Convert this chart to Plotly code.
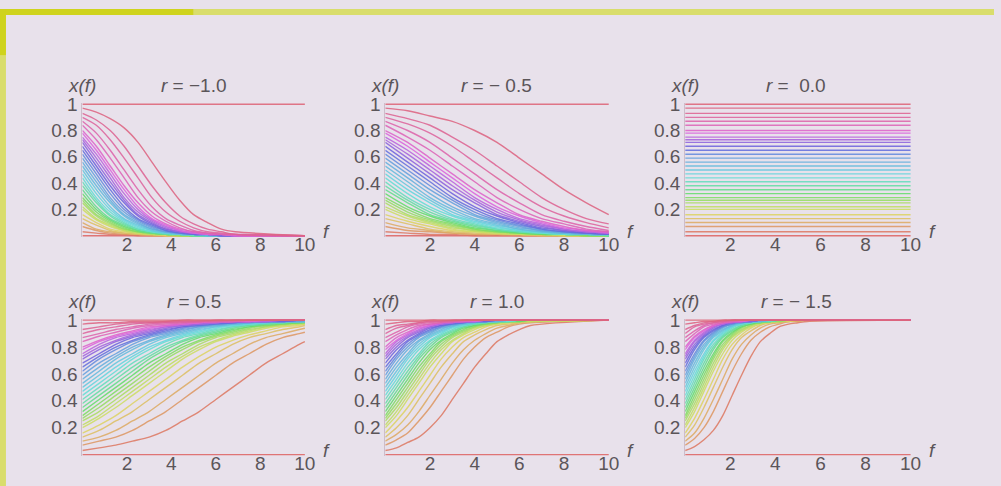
import plotly.graph_objects as go

# ---------------- data ----------------
# starting values x(0) of the family of curves (same set in every panel)
X0 = [0, .03, .07, .10, .13, .16, .20, .22, .25, .27, .29, .32, .35, .38, .41, .44, .47,
      .50, .53, .56, .59, .62, .65, .68, .71, .73, .75, .78, .80, .84, .87, .90, .93, .97, 1]

# panel r = -1.0
F_M10 = [0, 0.625, 1.25, 1.875, 2.5, 3.125, 3.75, 4.375, 5, 5.625, 6.25, 6.875, 10]
Y_M10 = [
    [0, 0, 0, 0, 0, 0, 0, 0, 0, 0, 0, 0, 0],
    [.03, .02, .01, .01, 0, 0, 0, 0, 0, 0, 0, 0, 0],
    [.07, .04, .02, .01, .01, 0, 0, 0, 0, 0, 0, 0, 0],
    [.10, .05, .03, .02, .01, 0, 0, 0, 0, 0, 0, 0, 0],
    [.13, .08, .04, .02, .01, .01, 0, 0, 0, 0, 0, 0, 0],
    [.16, .10, .05, .03, .02, .01, 0, 0, 0, 0, 0, 0, 0],
    [.20, .12, .07, .04, .02, .01, .01, 0, 0, 0, 0, 0, 0],
    [.22, .13, .08, .04, .02, .01, .01, 0, 0, 0, 0, 0, 0],
    [.25, .15, .09, .05, .03, .01, .01, 0, 0, 0, 0, 0, 0],
    [.27, .16, .10, .05, .03, .02, .01, 0, 0, 0, 0, 0, 0],
    [.29, .18, .11, .06, .03, .02, .01, .01, 0, 0, 0, 0, 0],
    [.32, .20, .12, .07, .04, .02, .01, .01, 0, 0, 0, 0, 0],
    [.35, .22, .13, .08, .04, .02, .01, .01, 0, 0, 0, 0, 0],
    [.38, .25, .15, .09, .05, .03, .01, .01, 0, 0, 0, 0, 0],
    [.41, .27, .16, .10, .05, .03, .02, .01, 0, 0, 0, 0, 0],
    [.44, .29, .18, .11, .06, .03, .02, .01, .01, 0, 0, 0, 0],
    [.47, .32, .20, .12, .07, .04, .02, .01, .01, 0, 0, 0, 0],
    [.50, .35, .22, .13, .08, .04, .02, .01, .01, 0, 0, 0, 0],
    [.53, .38, .25, .15, .09, .05, .03, .01, .01, 0, 0, 0, 0],
    [.56, .41, .27, .16, .10, .05, .03, .02, .01, 0, 0, 0, 0],
    [.59, .44, .29, .18, .11, .06, .03, .02, .01, .01, 0, 0, 0],
    [.62, .47, .32, .20, .12, .07, .04, .02, .01, .01, 0, 0, 0],
    [.65, .50, .35, .22, .13, .08, .04, .02, .01, .01, 0, 0, 0],
    [.68, .53, .38, .25, .15, .09, .05, .03, .01, .01, 0, 0, 0],
    [.71, .56, .41, .27, .16, .10, .05, .03, .02, .01, 0, 0, 0],
    [.73, .59, .44, .29, .18, .11, .06, .03, .02, .01, .01, 0, 0],
    [.75, .62, .47, .32, .20, .12, .07, .04, .02, .01, .01, 0, 0],
    [.78, .65, .50, .35, .22, .13, .08, .04, .02, .01, .01, 0, 0],
    [.80, .68, .53, .38, .25, .15, .09, .05, .03, .01, .01, 0, 0],
    [.84, .73, .59, .44, .29, .18, .11, .06, .03, .02, .01, .01, 0],
    [.87, .78, .65, .50, .35, .22, .13, .08, .04, .02, .01, .01, 0],
    [.90, .84, .73, .59, .44, .29, .18, .11, .06, .03, .02, .01, 0],
    [.93, .88, .80, .68, .53, .38, .25, .15, .09, .05, .03, .01, 0],
    [.97, .94, .89, .82, .71, .56, .41, .27, .16, .10, .05, .03, 0],
    [1, 1, 1, 1, 1, 1, 1, 1, 1, 1, 1, 1, 1],
]

# panel r = -0.5
F_M05 = [0, 1, 2, 3, 4, 5, 6, 7, 8, 9, 10]
Y_M05 = [
    [0, 0, 0, 0, 0, 0, 0, 0, 0, 0, 0],
    [.03, .02, .01, .01, 0, 0, 0, 0, 0, 0, 0],
    [.07, .04, .03, .02, .01, .01, 0, 0, 0, 0, 0],
    [.10, .06, .04, .02, .01, .01, .01, 0, 0, 0, 0],
    [.13, .09, .05, .03, .02, .01, .01, 0, 0, 0, 0],
    [.16, .11, .07, .04, .03, .02, .01, .01, 0, 0, 0],
    [.20, .13, .09, .05, .03, .02, .01, .01, 0, 0, 0],
    [.22, .15, .10, .06, .04, .02, .01, .01, .01, 0, 0],
    [.25, .16, .11, .07, .04, .03, .02, .01, .01, 0, 0],
    [.27, .18, .12, .08, .05, .03, .02, .01, .01, 0, 0],
    [.29, .20, .13, .09, .05, .03, .02, .01, .01, 0, 0],
    [.32, .22, .15, .10, .06, .04, .02, .01, .01, .01, 0],
    [.35, .25, .16, .11, .07, .04, .03, .02, .01, .01, 0],
    [.38, .27, .18, .12, .08, .05, .03, .02, .01, .01, 0],
    [.41, .29, .20, .13, .09, .05, .03, .02, .01, .01, 0],
    [.44, .32, .22, .15, .10, .06, .04, .02, .01, .01, .01],
    [.47, .35, .25, .16, .11, .07, .04, .03, .02, .01, .01],
    [.50, .38, .27, .18, .12, .08, .05, .03, .02, .01, .01],
    [.53, .41, .29, .20, .13, .09, .05, .03, .02, .01, .01],
    [.56, .44, .32, .22, .15, .10, .06, .04, .02, .01, .01],
    [.59, .47, .35, .25, .16, .11, .07, .04, .03, .02, .01],
    [.62, .50, .38, .27, .18, .12, .08, .05, .03, .02, .01],
    [.65, .53, .41, .29, .20, .13, .09, .05, .03, .02, .01],
    [.68, .56, .44, .32, .22, .15, .10, .06, .04, .02, .01],
    [.71, .59, .47, .35, .25, .16, .11, .07, .04, .03, .02],
    [.73, .62, .50, .38, .27, .18, .12, .08, .05, .03, .02],
    [.75, .65, .53, .41, .29, .20, .13, .09, .05, .03, .02],
    [.78, .68, .56, .44, .32, .22, .15, .10, .06, .04, .02],
    [.80, .71, .59, .47, .35, .25, .16, .11, .07, .04, .03],
    [.84, .75, .65, .53, .41, .29, .20, .13, .09, .05, .03],
    [.87, .80, .71, .59, .47, .35, .25, .16, .11, .07, .04],
    [.90, .85, .78, .68, .56, .44, .32, .22, .15, .10, .06],
    [.93, .89, .84, .75, .65, .53, .41, .29, .20, .13, .09],
    [.97, .95, .91, .87, .80, .71, .59, .47, .35, .25, .16],
    [1, 1, 1, 1, 1, 1, 1, 1, 1, 1, 1],
]

# panel r = 0.0 (flat lines at the starting values)
F_R0 = [0, 10]

# panel r = 0.5
F_P05 = [0, .75, 1.5, 2.25, 3, 3.75, 4.5, 5.25, 6, 6.75, 7.5, 8.25, 9, 9.75, 10]
Y_P05 = [
    [0, 0, 0, 0, 0, 0, 0, 0, 0, 0, 0, 0, 0, 0, 0],
    [.03, .05, .07, .10, .13, .18, .25, .32, .41, .50, .59, .68, .75, .82, .84],
    [.07, .10, .13, .18, .25, .32, .41, .50, .59, .68, .75, .82, .87, .90, .91],
    [.10, .13, .18, .25, .32, .41, .50, .59, .68, .75, .82, .87, .90, .93, .94],
    [.13, .18, .25, .32, .41, .50, .59, .68, .75, .82, .87, .90, .93, .95, .96],
    [.16, .22, .29, .38, .47, .56, .65, .73, .80, .85, .89, .92, .95, .96, .97],
    [.20, .27, .35, .44, .53, .62, .71, .78, .84, .88, .91, .94, .96, .97, .97],
    [.22, .29, .38, .47, .56, .65, .73, .80, .85, .89, .92, .95, .96, .97, .98],
    [.25, .32, .41, .50, .59, .68, .75, .82, .87, .90, .93, .95, .97, .98, .98],
    [.27, .35, .44, .53, .62, .71, .78, .84, .88, .91, .94, .96, .97, .98, .98],
    [.29, .38, .47, .56, .65, .73, .80, .85, .89, .92, .95, .96, .97, .98, .98],
    [.32, .41, .50, .59, .68, .75, .82, .87, .90, .93, .95, .97, .98, .98, .99],
    [.35, .44, .53, .62, .71, .78, .84, .88, .91, .94, .96, .97, .98, .99, .99],
    [.38, .47, .56, .65, .73, .80, .85, .89, .92, .95, .96, .97, .98, .99, .99],
    [.41, .50, .59, .68, .75, .82, .87, .90, .93, .95, .97, .98, .98, .99, .99],
    [.44, .53, .62, .71, .78, .84, .88, .91, .94, .96, .97, .98, .99, .99, .99],
    [.47, .56, .65, .73, .80, .85, .89, .92, .95, .96, .97, .98, .99, .99, .99],
    [.50, .59, .68, .75, .82, .87, .90, .93, .95, .97, .98, .98, .99, .99, .99],
    [.53, .62, .71, .78, .84, .88, .91, .94, .96, .97, .98, .99, .99, .99, .99],
    [.56, .65, .73, .80, .85, .89, .92, .95, .96, .97, .98, .99, .99, .99, .99],
    [.59, .68, .75, .82, .87, .90, .93, .95, .97, .98, .98, .99, .99, .99, 1],
    [.62, .71, .78, .84, .88, .91, .94, .96, .97, .98, .99, .99, .99, 1, 1],
    [.65, .73, .80, .85, .89, .92, .95, .96, .97, .98, .99, .99, .99, 1, 1],
    [.68, .75, .82, .87, .90, .93, .95, .97, .98, .98, .99, .99, .99, 1, 1],
    [.71, .78, .84, .88, .91, .94, .96, .97, .98, .99, .99, .99, 1, 1, 1],
    [.73, .80, .85, .89, .92, .95, .96, .97, .98, .99, .99, .99, 1, 1, 1],
    [.75, .82, .87, .90, .93, .95, .97, .98, .98, .99, .99, .99, 1, 1, 1],
    [.78, .84, .88, .91, .94, .96, .97, .98, .99, .99, .99, 1, 1, 1, 1],
    [.80, .85, .89, .92, .95, .96, .97, .98, .99, .99, .99, 1, 1, 1, 1],
    [.84, .88, .91, .94, .96, .97, .98, .99, .99, .99, 1, 1, 1, 1, 1],
    [.87, .90, .93, .95, .97, .98, .98, .99, .99, .99, 1, 1, 1, 1, 1],
    [.90, .93, .95, .97, .98, .98, .99, .99, .99, 1, 1, 1, 1, 1, 1],
    [.93, .95, .97, .98, .98, .99, .99, .99, 1, 1, 1, 1, 1, 1, 1],
    [.97, .98, .98, .99, .99, .99, 1, 1, 1, 1, 1, 1, 1, 1, 1],
    [1, 1, 1, 1, 1, 1, 1, 1, 1, 1, 1, 1, 1, 1, 1],
]

# panel r = 1.0
F_P10 = [0, .5, 1, 1.5, 2, 2.5, 3, 3.5, 4, 4.5, 5, 5.5, 6, 6.5, 10]
Y_P10 = [
    [0, 0, 0, 0, 0, 0, 0, 0, 0, 0, 0, 0, 0, 0, 0],
    [.03, .05, .09, .13, .20, .29, .41, .53, .65, .75, .84, .89, .93, .96, 1],
    [.07, .11, .16, .25, .35, .47, .59, .71, .80, .87, .91, .95, .97, .98, 1],
    [.10, .15, .22, .32, .44, .56, .68, .78, .85, .90, .94, .96, .98, .99, 1],
    [.13, .20, .29, .41, .53, .65, .75, .84, .89, .93, .96, .97, .98, .99, 1],
    [.16, .25, .35, .47, .59, .71, .80, .87, .91, .95, .97, .98, .99, .99, 1],
    [.20, .29, .41, .53, .65, .75, .84, .89, .93, .96, .97, .98, .99, .99, 1],
    [.22, .32, .44, .56, .68, .78, .85, .90, .94, .96, .98, .99, .99, .99, 1],
    [.25, .35, .47, .59, .71, .80, .87, .91, .95, .97, .98, .99, .99, 1, 1],
    [.27, .38, .50, .62, .73, .82, .88, .92, .95, .97, .98, .99, .99, 1, 1],
    [.29, .41, .53, .65, .75, .84, .89, .93, .96, .97, .98, .99, .99, 1, 1],
    [.32, .44, .56, .68, .78, .85, .90, .94, .96, .98, .99, .99, .99, 1, 1],
    [.35, .47, .59, .71, .80, .87, .91, .95, .97, .98, .99, .99, 1, 1, 1],
    [.38, .50, .62, .73, .82, .88, .92, .95, .97, .98, .99, .99, 1, 1, 1],
    [.41, .53, .65, .75, .84, .89, .93, .96, .97, .98, .99, .99, 1, 1, 1],
    [.44, .56, .68, .78, .85, .90, .94, .96, .98, .99, .99, .99, 1, 1, 1],
    [.47, .59, .71, .80, .87, .91, .95, .97, .98, .99, .99, 1, 1, 1, 1],
    [.50, .62, .73, .82, .88, .92, .95, .97, .98, .99, .99, 1, 1, 1, 1],
    [.53, .65, .75, .84, .89, .93, .96, .97, .98, .99, .99, 1, 1, 1, 1],
    [.56, .68, .78, .85, .90, .94, .96, .98, .99, .99, .99, 1, 1, 1, 1],
    [.59, .71, .80, .87, .91, .95, .97, .98, .99, .99, 1, 1, 1, 1, 1],
    [.62, .73, .82, .88, .92, .95, .97, .98, .99, .99, 1, 1, 1, 1, 1],
    [.65, .75, .84, .89, .93, .96, .97, .98, .99, .99, 1, 1, 1, 1, 1],
    [.68, .78, .85, .90, .94, .96, .98, .99, .99, .99, 1, 1, 1, 1, 1],
    [.71, .80, .87, .91, .95, .97, .98, .99, .99, 1, 1, 1, 1, 1, 1],
    [.73, .82, .88, .92, .95, .97, .98, .99, .99, 1, 1, 1, 1, 1, 1],
    [.75, .84, .89, .93, .96, .97, .98, .99, .99, 1, 1, 1, 1, 1, 1],
    [.78, .85, .90, .94, .96, .98, .99, .99, .99, 1, 1, 1, 1, 1, 1],
    [.80, .87, .91, .95, .97, .98, .99, .99, 1, 1, 1, 1, 1, 1, 1],
    [.84, .89, .93, .96, .97, .98, .99, .99, 1, 1, 1, 1, 1, 1, 1],
    [.87, .91, .95, .97, .98, .99, .99, 1, 1, 1, 1, 1, 1, 1, 1],
    [.90, .94, .96, .98, .99, .99, .99, 1, 1, 1, 1, 1, 1, 1, 1],
    [.93, .96, .97, .98, .99, .99, 1, 1, 1, 1, 1, 1, 1, 1, 1],
    [.97, .98, .99, .99, 1, 1, 1, 1, 1, 1, 1, 1, 1, 1, 1],
    [1, 1, 1, 1, 1, 1, 1, 1, 1, 1, 1, 1, 1, 1, 1],
]

# panel labelled r = - 1.5 (rising fastest)
F_P15 = [0, .417, .833, 1.25, 1.667, 2.083, 2.5, 2.917, 3.333, 3.75, 4.167, 4.583, 5, 5.417, 10]
Y_P15 = [
    [0, 0, 0, 0, 0, 0, 0, 0, 0, 0, 0, 0, 0, 0, 0],
    [.03, .06, .11, .18, .29, .44, .59, .73, .84, .90, .95, .97, .98, .99, 1],
    [.07, .12, .20, .32, .47, .62, .75, .85, .91, .95, .97, .99, .99, 1, 1],
    [.10, .16, .27, .41, .56, .71, .82, .89, .94, .97, .98, .99, .99, 1, 1],
    [.13, .22, .35, .50, .65, .78, .87, .92, .96, .98, .99, .99, 1, 1, 1],
    [.16, .27, .41, .56, .71, .82, .89, .94, .97, .98, .99, .99, 1, 1, 1],
    [.20, .32, .47, .62, .75, .85, .91, .95, .97, .99, .99, 1, 1, 1, 1],
    [.22, .35, .50, .65, .78, .87, .92, .96, .98, .99, .99, 1, 1, 1, 1],
    [.25, .38, .53, .68, .80, .88, .93, .96, .98, .99, .99, 1, 1, 1, 1],
    [.27, .41, .56, .71, .82, .89, .94, .97, .98, .99, .99, 1, 1, 1, 1],
    [.29, .44, .59, .73, .84, .90, .95, .97, .98, .99, 1, 1, 1, 1, 1],
    [.32, .47, .62, .75, .85, .91, .95, .97, .99, .99, 1, 1, 1, 1, 1],
    [.35, .50, .65, .78, .87, .92, .96, .98, .99, .99, 1, 1, 1, 1, 1],
    [.38, .53, .68, .80, .88, .93, .96, .98, .99, .99, 1, 1, 1, 1, 1],
    [.41, .56, .71, .82, .89, .94, .97, .98, .99, .99, 1, 1, 1, 1, 1],
    [.44, .59, .73, .84, .90, .95, .97, .98, .99, 1, 1, 1, 1, 1, 1],
    [.47, .62, .75, .85, .91, .95, .97, .99, .99, 1, 1, 1, 1, 1, 1],
    [.50, .65, .78, .87, .92, .96, .98, .99, .99, 1, 1, 1, 1, 1, 1],
    [.53, .68, .80, .88, .93, .96, .98, .99, .99, 1, 1, 1, 1, 1, 1],
    [.56, .71, .82, .89, .94, .97, .98, .99, .99, 1, 1, 1, 1, 1, 1],
    [.59, .73, .84, .90, .95, .97, .98, .99, 1, 1, 1, 1, 1, 1, 1],
    [.62, .75, .85, .91, .95, .97, .99, .99, 1, 1, 1, 1, 1, 1, 1],
    [.65, .78, .87, .92, .96, .98, .99, .99, 1, 1, 1, 1, 1, 1, 1],
    [.68, .80, .88, .93, .96, .98, .99, .99, 1, 1, 1, 1, 1, 1, 1],
    [.71, .82, .89, .94, .97, .98, .99, .99, 1, 1, 1, 1, 1, 1, 1],
    [.73, .84, .90, .95, .97, .98, .99, 1, 1, 1, 1, 1, 1, 1, 1],
    [.75, .85, .91, .95, .97, .99, .99, 1, 1, 1, 1, 1, 1, 1, 1],
    [.78, .87, .92, .96, .98, .99, .99, 1, 1, 1, 1, 1, 1, 1, 1],
    [.80, .88, .93, .96, .98, .99, .99, 1, 1, 1, 1, 1, 1, 1, 1],
    [.84, .90, .95, .97, .98, .99, 1, 1, 1, 1, 1, 1, 1, 1, 1],
    [.87, .92, .96, .98, .99, .99, 1, 1, 1, 1, 1, 1, 1, 1, 1],
    [.90, .95, .97, .98, .99, 1, 1, 1, 1, 1, 1, 1, 1, 1, 1],
    [.93, .96, .98, .99, .99, 1, 1, 1, 1, 1, 1, 1, 1, 1, 1],
    [.97, .98, .99, .99, 1, 1, 1, 1, 1, 1, 1, 1, 1, 1, 1],
    [1, 1, 1, 1, 1, 1, 1, 1, 1, 1, 1, 1, 1, 1, 1],
]

PANEL_TITLES = ["<i>r</i> = \u22121.0", "<i>r</i> = \u2212 0.5", "<i>r</i> =&nbsp; 0.0",
                "<i>r</i> = 0.5", "<i>r</i> = 1.0", "<i>r</i> = \u2212 1.5"]
X_TICKS = [2, 4, 6, 8, 10]
Y_TICKS = [0.2, 0.4, 0.6, 0.8, 1]
Y_TICK_TEXT = ["0.2", "0.4", "0.6", "0.8", "1"]

# ---------------- styling / layout constants ----------------
W, H = 1001, 486
BG = "#e8e1eb"
TXT = "#5b5559"
FONT = "Liberation Sans, Arial, sans-serif"
FS = 19
COLS_PX = [(83, 307), (388, 613), (690, 917)]   # pixel x of f=0 and f=10
ROWS_PX = [(97, 231), (317, 454)]               # pixel y of x=1 and x=0
X_PAD = 0.15
Y_PAD = 0.012
XLABEL_GAP = -5     # px offset of the f tick-label baseline axis from the x=0 line

# colour scale: starting value -> hue (pink at top, through blue/cyan/green/yellow to red)
HUE_STOPS = [(0, 0), (0.05, 18), (0.15, 52), (0.25, 85), (0.35, 140), (0.45, 180),
             (0.6, 212), (0.7, 255), (0.8, 310), (0.9, 332), (1.0, 350)]


def hue_of(v):
    for (a, ha), (b, hb) in zip(HUE_STOPS, HUE_STOPS[1:]):
        if v <= b:
            return ha + (hb - ha) * (v - a) / (b - a)
    return HUE_STOPS[-1][1]


def line_color(v):
    return f"hsla({hue_of(v):.0f},64%,63%,0.88)"


panels = [
    (F_M10, Y_M10), (F_M05, Y_M05), (F_R0, None),
    (F_P05, Y_P05), (F_P10, Y_P10), (F_P15, Y_P15),
]

fig = go.Figure()
layout = dict(
    width=W, height=H, margin=dict(l=0, r=0, t=0, b=0),
    paper_bgcolor=BG, plot_bgcolor=BG, showlegend=False,
    font=dict(family=FONT, color=TXT, size=FS),
)
annotations = []

for idx, (F, Y) in enumerate(panels):
    r, c = divmod(idx, 3)
    lpx, rpx = COLS_PX[c]
    tpx, bpx = ROWS_PX[r]
    ppu_x = (rpx - lpx) / 10
    ppu_y = (bpx - tpx)
    suffix = "" if idx == 0 else str(idx + 1)
    xname, yname = "xaxis" + suffix, "yaxis" + suffix
    xref, yref = "x" + suffix, "y" + suffix

    layout[xname] = dict(
        domain=[lpx / W, (rpx + X_PAD * ppu_x) / W], range=[0, 10 + X_PAD],
        anchor="free", position=1 - (bpx + XLABEL_GAP) / H,
        tickvals=X_TICKS, ticks="", ticklen=0, showgrid=False, zeroline=False,
        showline=False, tickfont=dict(size=FS, color=TXT, family=FONT),
        ticklabelstandoff=0, fixedrange=True,
    )
    layout[yname] = dict(
        domain=[1 - (bpx + Y_PAD * ppu_y) / H, 1 - (tpx - Y_PAD * ppu_y) / H],
        range=[-Y_PAD, 1 + Y_PAD], anchor=xref, tickvals=Y_TICKS, ticktext=Y_TICK_TEXT,
        ticks="", ticklen=0, showgrid=False, zeroline=False, showline=True,
        linecolor="#cdbdca", linewidth=1,
        tickfont=dict(size=FS, color=TXT, family=FONT), ticklabelstandoff=0,
        fixedrange=True,
    )

    for i, v in enumerate(X0):
        yy = [v, v] if Y is None else Y[i]
        fig.add_trace(go.Scatter(
            x=F, y=yy, mode="lines", xaxis=xref, yaxis=yref, hoverinfo="skip",
            line=dict(color=line_color(v), width=1.4, shape="spline", smoothing=0.8),
        ))

    annotations.append(dict(
        text="<i>x(f)</i>", x=lpx / W, y=1 - (tpx - 19) / H, xref="paper", yref="paper",
        xanchor="center", yanchor="middle", showarrow=False,
        font=dict(size=FS, color=TXT, family=FONT)))
    annotations.append(dict(
        text=PANEL_TITLES[idx], x=(lpx + 112) / W, y=1 - (tpx - 19) / H,
        xref="paper", yref="paper", xanchor="center", yanchor="middle", showarrow=False,
        font=dict(size=FS, color=TXT, family=FONT)))
    annotations.append(dict(
        text="<i>f</i>", x=(rpx + 22) / W, y=1 - (bpx - 4) / H, xref="paper", yref="paper",
        xanchor="center", yanchor="middle", showarrow=False,
        font=dict(size=FS, color=TXT, family=FONT)))

DARK_Y = "#cfd31d"
LIGHT_Y = "#d9dd6c"
shapes = [
    dict(type="rect", xref="paper", yref="paper", x0=0, x1=6 / W, y0=0, y1=1,
         fillcolor=LIGHT_Y, line=dict(width=0)),
    dict(type="rect", xref="paper", yref="paper", x0=195 / W, x1=1, y0=1 - 6 / H, y1=1,
         fillcolor=LIGHT_Y, line=dict(width=0)),
    dict(type="rect", xref="paper", yref="paper", x0=0, x1=195 / W, y0=1 - 6 / H, y1=1,
         fillcolor=DARK_Y, line=dict(width=0)),
    dict(type="rect", xref="paper", yref="paper", x0=0, x1=6 / W, y0=1 - 47 / H, y1=1,
         fillcolor=DARK_Y, line=dict(width=0)),
]

layout["annotations"] = annotations
layout["shapes"] = shapes
fig.update_layout(**layout)
fig.write_html("out.html", config={"displayModeBar": False})
